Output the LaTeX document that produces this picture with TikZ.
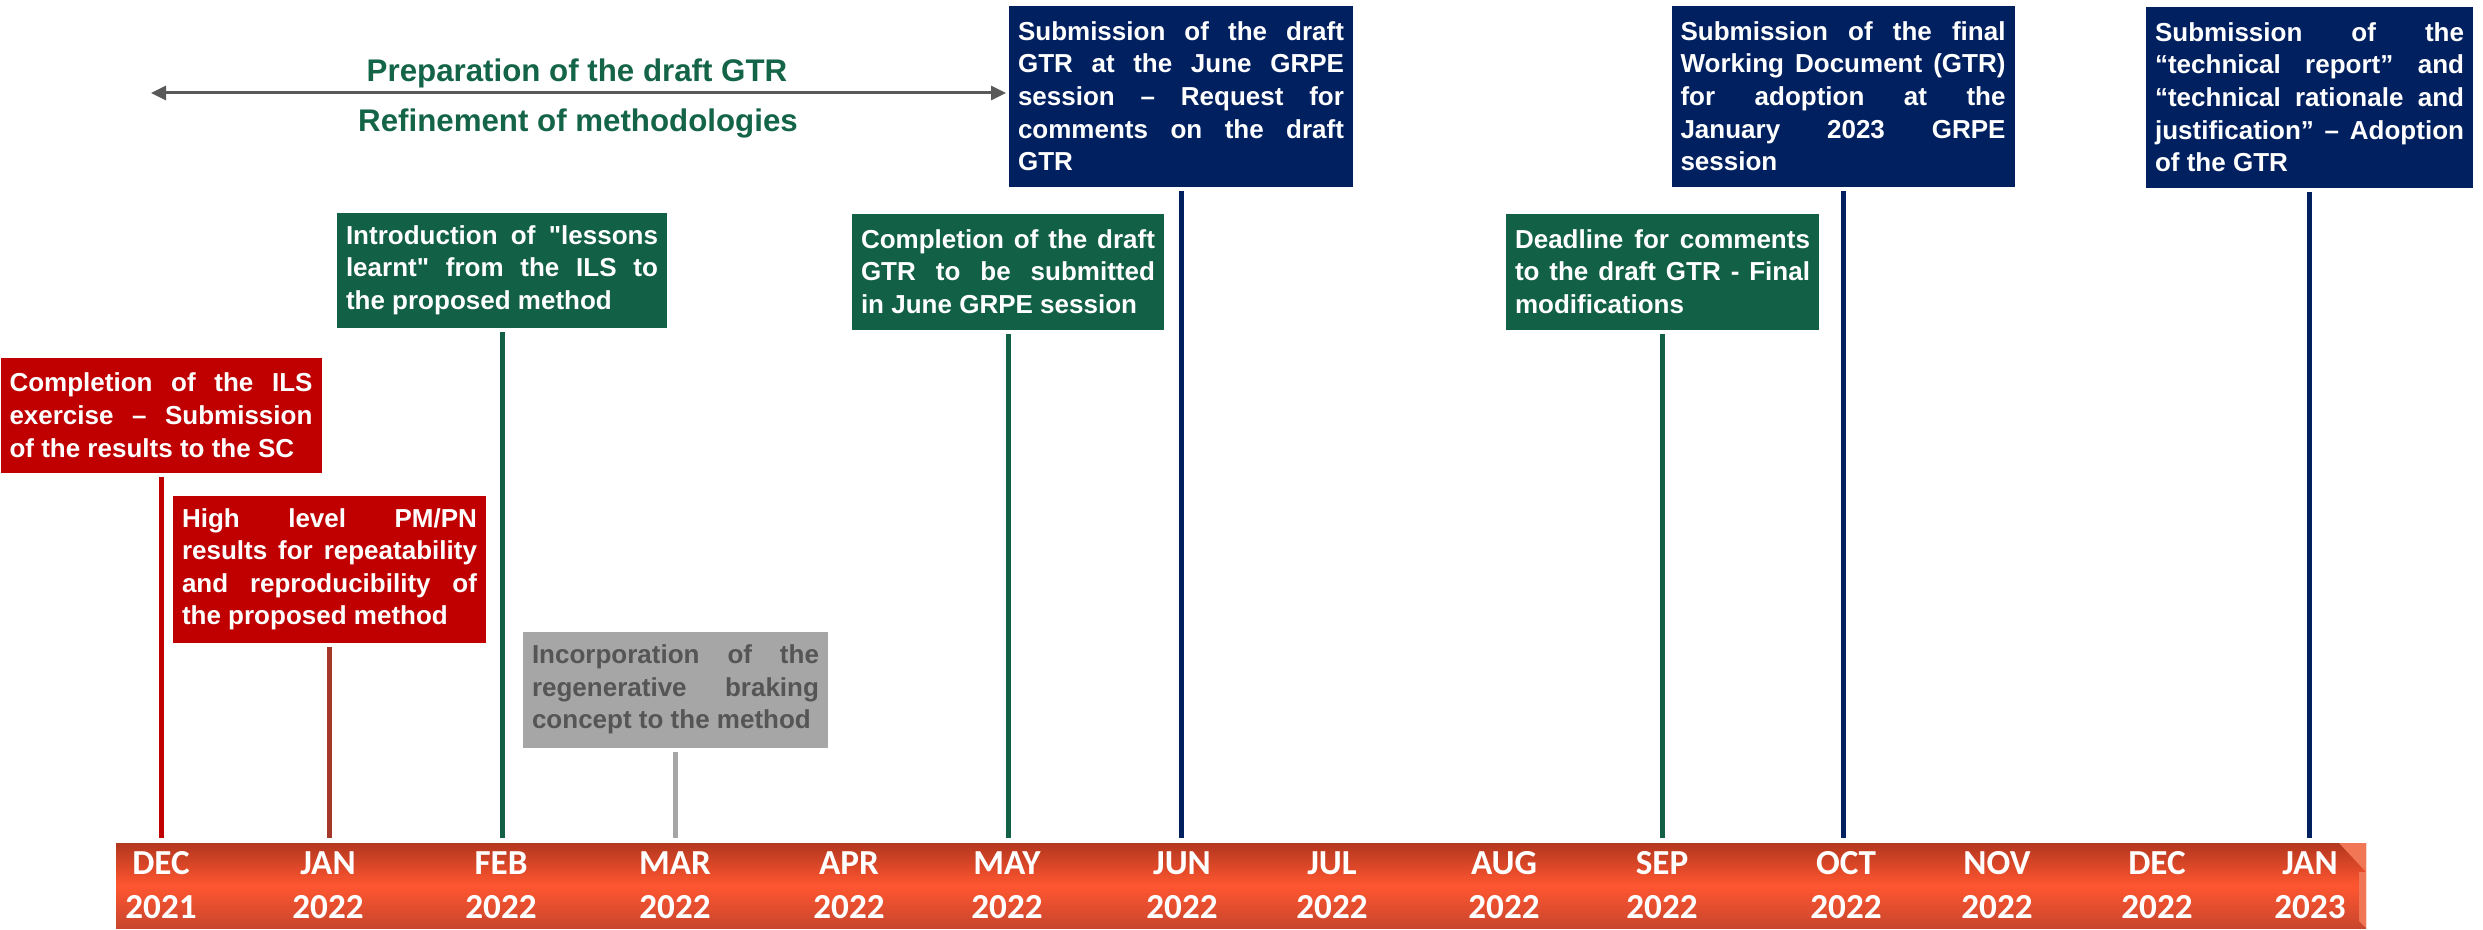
\documentclass[tikz,border=0pt]{standalone}
\usepackage{fontspec}
\setmainfont{Liberation Sans}[Ligatures=TeXOff]
\newfontfamily\monthfont{Carlito}
\usepackage{tikz}
\usetikzlibrary{arrows.meta}
\definecolor{evred}{RGB}{192,0,0}
\definecolor{evbrown}{RGB}{165,55,40}
\definecolor{evgreen}{RGB}{18,96,70}
\definecolor{evnavy}{RGB}{0,32,96}
\definecolor{evgray}{RGB}{166,166,166}
\definecolor{evgraytext}{RGB}{85,85,85}
\definecolor{titlegreen}{RGB}{20,100,72}
\definecolor{arrowgray}{RGB}{89,89,89}
\definecolor{bandtop}{RGB}{178,54,30}
\definecolor{bandmid}{RGB}{255,86,48}
\definecolor{bandbot}{RGB}{200,70,45}
\definecolor{bandlight}{RGB}{240,118,85}
\newcommand\evfont{\fontsize{7.4}{9.25}\selectfont\bfseries\hyphenpenalty=10000\exhyphenpenalty=10000\tolerance=9999}

\begin{document}
\begin{tikzpicture}[
    evbox/.style={anchor=north, inner xsep=0.09cm, inner ysep=0pt, align=justify, text=white, font=\evfont},
    evline/.style={line width=0.05cm, shorten <=0.04cm, shorten >=0.04cm},
    month/.style={align=center, inner sep=0pt, text=white, font=\monthfont\fontsize{10}{12.5}\selectfont\bfseries},
    title/.style={anchor=base, inner sep=0pt, text=titlegreen, font=\fontsize{8.9}{10}\selectfont\bfseries}
]
            \def\bandy{-8.855}
            \useasboundingbox (0,0) rectangle (24.83,-9.30);
            \node[minimum width=22.5cm, minimum height=0.85cm, inner sep=0pt, top color=bandtop, bottom color=bandbot, middle color=bandmid] (band) at (12.41,\bandy) {};
            \fill[bandlight] (23.39,-8.43) -- (23.66,-8.43) -- (23.66,-8.72) -- cycle;
            \fill[bandlight] (23.59,-8.72) -- (23.66,-8.72) -- (23.66,-9.28) -- (23.59,-9.21) -- cycle;
            \node[month] (m1) at (1.61,\bandy) {DEC\\2021};
            \node[month] (m2) at (3.28,\bandy) {JAN\\2022};
            \node[month] (m3) at (5.01,\bandy) {FEB\\2022};
            \node[month] (m4) at (6.75,\bandy) {MAR\\2022};
            \node[month] (m5) at (8.49,\bandy) {APR\\2022};
            \node[month] (m6) at (10.07,\bandy) {MAY\\2022};
            \node[month] (m7) at (11.82,\bandy) {JUN\\2022};
            \node[month] (m8) at (13.32,\bandy) {JUL\\2022};
            \node[month] (m9) at (15.04,\bandy) {AUG\\2022};
            \node[month] (m10) at (16.62,\bandy) {SEP\\2022};
            \node[month] (m11) at (18.46,\bandy) {OCT\\2022};
            \node[month] (m12) at (19.97,\bandy) {NOV\\2022};
            \node[month] (m13) at (21.57,\bandy) {DEC\\2022};
            \node[month] (m14) at (23.10,\bandy) {JAN\\2023};
            \coordinate (prepL) at (1.51,-0.93);
            \coordinate (prepR) at (10.06,-0.93);
            \draw[{Triangle[length=0.15cm,width=0.14cm]}-{Triangle[length=0.15cm,width=0.14cm]}, arrowgray, line width=0.03cm] (prepL) -- (prepR);
            \node[title] (prep) at (5.77,-0.82) {Preparation of the draft GTR};
            \node[title] (refine) at (5.78,-1.32) {Refinement of methodologies};
            \node[evbox, fill=evred, text width=3.03cm, minimum height=1.15cm] (b1) at (1.61,-3.57) {Completion of the ILS\linebreak exercise – Submission\linebreak of the results to the SC};
            \node[evbox, fill=evred, text width=2.95cm, minimum height=1.47cm] (b2) at (3.295,-4.95) {High level PM/PN\linebreak results for repeatability\linebreak and reproducibility of\linebreak the proposed method};
            \node[evbox, fill=evgreen, text width=3.12cm, minimum height=1.15cm] (b3) at (5.02,-2.12) {Introduction of "lessons\linebreak learnt" from the ILS to\linebreak the proposed method};
            \node[evbox, fill=evgray, text=evgraytext, text width=2.87cm, minimum height=1.16cm] (b4) at (6.755,-6.31) {Incorporation of the\linebreak regenerative braking\linebreak concept to the method};
            \node[evbox, fill=evgreen, text width=2.94cm, minimum height=1.16cm] (b5) at (10.08,-2.13) {Completion of the draft\linebreak GTR to be submitted\linebreak in June GRPE session};
            \node[evbox, fill=evnavy, text width=3.26cm, minimum height=1.81cm] (b6) at (11.81,-0.05) {Submission of the draft\linebreak GTR at the June GRPE\linebreak session – Request for\linebreak comments on the draft\linebreak GTR};
            \node[evbox, fill=evgreen, text width=2.95cm, minimum height=1.16cm] (b7) at (16.625,-2.13) {Deadline for comments\linebreak to the draft GTR - Final\linebreak modifications};
            \node[evbox, fill=evnavy, text width=3.25cm, minimum height=1.81cm] (b8) at (18.43,-0.05) {Submission of the final\linebreak Working Document (GTR)\linebreak for adoption at the\linebreak January 2023 GRPE\linebreak session};
            \node[evbox, fill=evnavy, text width=3.09cm, minimum height=1.81cm] (b9) at (23.095,-0.06) {Submission of the\linebreak “technical report” and\linebreak “technical rationale and\linebreak justification” – Adoption\linebreak of the GTR};
            \draw[evline, evred] (b1.south) -- (b1.south |- band.north);
            \draw[evline, evbrown] (b2.south) -- (b2.south |- band.north);
            \draw[evline, evgreen] (b3.south) -- (b3.south |- band.north);
            \draw[evline, evgray] (b4.south) -- (b4.south |- band.north);
            \draw[evline, evgreen] (b5.south) -- (b5.south |- band.north);
            \draw[evline, evnavy] (b6.south) -- (b6.south |- band.north);
            \draw[evline, evgreen] (b7.south) -- (b7.south |- band.north);
            \draw[evline, evnavy] (b8.south) -- (b8.south |- band.north);
            \draw[evline, evnavy] (b9.south) -- (b9.south |- band.north);
\end{tikzpicture}
\end{document}
